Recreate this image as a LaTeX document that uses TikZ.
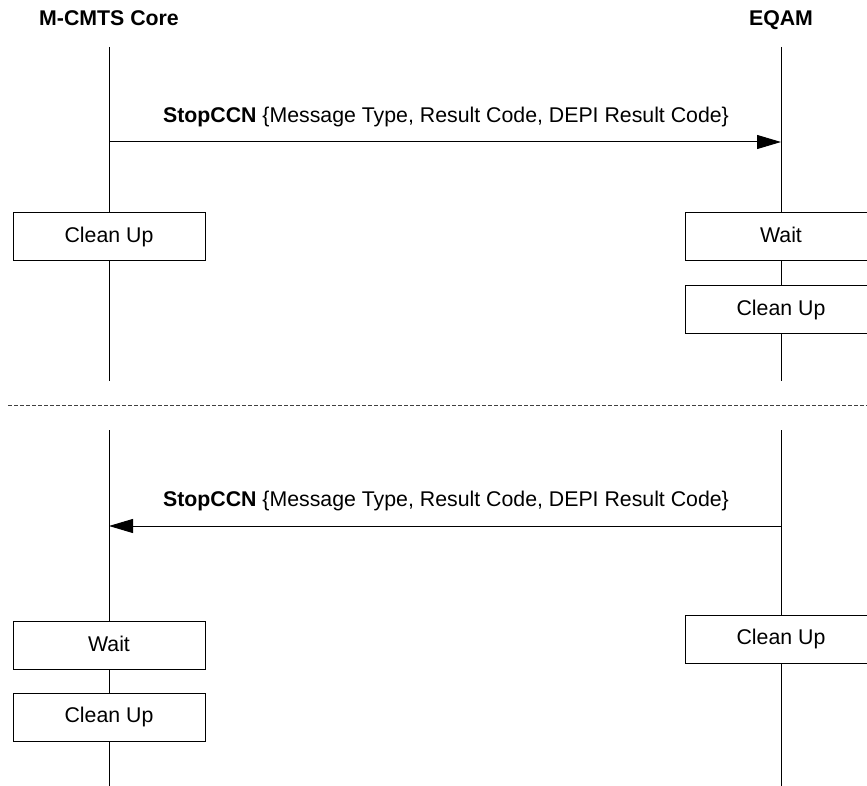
\documentclass[tikz,border=0pt]{standalone}
\usepackage{fontspec}
\setmainfont{Liberation Sans}
\usetikzlibrary{arrows.meta}
\begin{document}
\begin{tikzpicture}[x=1pt,y=-1pt,
  every node/.style={font=\fontsize{21.3}{25}\selectfont,text height=15.5pt,text depth=4.5pt},
  head/.style={font=\fontsize{21.3}{25}\selectfont\bfseries},
  life/.style={line width=1pt},
  msg/.style={line width=1pt,-{Triangle[length=24pt,width=14pt]}},
  act/.style={draw,line width=1pt,fill=white,minimum width=192pt,minimum height=48pt,inner sep=0pt}]
\useasboundingbox (0,0) rectangle (867,786);
\clip (0,0) rectangle (867,786);
\node[head] (core) at (109,20) {M-CMTS Core};
\node[head] (eqam) at (781,20) {EQAM};
% lifelines
\coordinate (l1t) at (109,47);
\coordinate (l1b) at (109,381);
\coordinate (r1t) at (781,47);
\coordinate (r1b) at (781,381);
\coordinate (l2t) at (109,430);
\coordinate (l2b) at (109,786);
\coordinate (r2t) at (781,430);
\coordinate (r2b) at (781,786);
\draw[life] (l1t) -- (l1b);
\draw[life] (r1t) -- (r1b);
\draw[life] (l2t) -- (l2b);
\draw[life] (r2t) -- (r2b);
% separator
\coordinate (sepL) at (8,405);
\coordinate (sepR) at (867,405);
\draw[line width=1pt,color=black!75,dash pattern=on 4pt off 2pt] (sepL) -- (sepR);
% top message
\coordinate (m1s) at (109,142);
\coordinate (m1e) at (781,142);
\draw[msg] (m1s) -- (m1e);
\node (m1lab) at (446,117) {\textbf{StopCCN} \{Message Type, Result Code, DEPI Result Code\}};
% top boxes
\node[act] (cu1) at (109,237) {Clean Up};
\node[act] (w1) at (781,237) {Wait};
\node[act] (cu2) at (781,309.5) {Clean Up};
% bottom message
\coordinate (m2s) at (781,526);
\coordinate (m2e) at (109,526);
\draw[msg] (m2s) -- (m2e);
\node (m2lab) at (446,501) {\textbf{StopCCN} \{Message Type, Result Code, DEPI Result Code\}};
% bottom boxes
\node[act] (w2) at (109,645.5) {Wait};
\node[act] (cu3) at (109,717) {Clean Up};
\node[act] (cu4) at (781,639) {Clean Up};
\end{tikzpicture}
\end{document}
